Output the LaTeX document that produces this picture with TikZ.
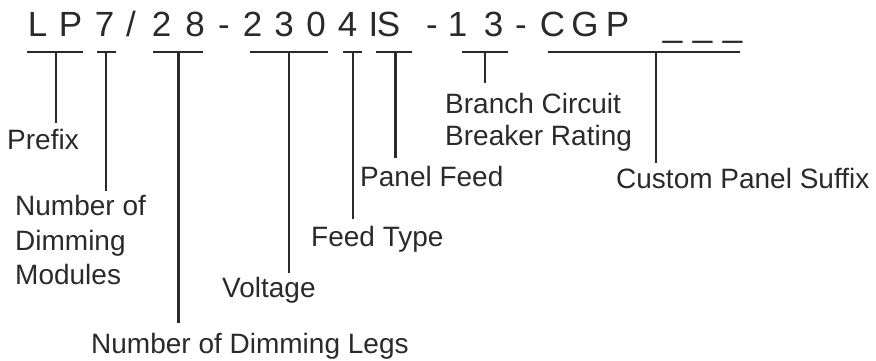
\documentclass[tikz,border=0pt]{standalone}
\usepackage{fontspec}
\setmainfont{Liberation Sans}
\definecolor{ink}{HTML}{2B2A2A}
\begin{document}
\begin{tikzpicture}[x=1pt,y=-1pt,
  codechar/.style={anchor=base,inner sep=0pt,text=ink,font=\fontsize{35}{40}\selectfont},
  lbl/.style={anchor=base west,inner sep=0pt,text=ink,font=\fontsize{28}{34}\selectfont},
  bar/.style={draw=ink,line width=2.6pt},
  lead/.style={draw=ink,line width=2.4pt}]
\useasboundingbox (0,0) rectangle (876,360);
% code string
\foreach \c/\x [count=\i] in {L/37.5,P/70.5,7/104.5,{/}/131,2/161.5,8/195,-/224,2/252.5,3/284,0/316,4/347.5,I/373.5,S/388.5,-/432,1/457.5,3/493.5,-/521,C/552.5,G/585,P/617.5}
  \node[codechar] (c\i) at (\x,36) {\c};
\node[codechar] (u1) at (672.5,36) {\_};
\node[codechar] (u2) at (702.5,36) {\_};
\node[codechar] (u3) at (732.5,36) {\_};
% bars
\coordinate (b1l) at (27,52);  \coordinate (b1r) at (83,52);  \coordinate (b1m) at (56,52);
\coordinate (b2l) at (97,52);  \coordinate (b2r) at (116,52); \coordinate (b2m) at (106,52);
\coordinate (b3l) at (153,52); \coordinate (b3r) at (203,52); \coordinate (b3m) at (178.5,52);
\coordinate (b4l) at (250,52); \coordinate (b4r) at (328,52); \coordinate (b4m) at (289,52);
\coordinate (b5l) at (343,52); \coordinate (b5r) at (362,52); \coordinate (b5m) at (353,52);
\coordinate (b6l) at (376,52); \coordinate (b6r) at (412,52); \coordinate (b6m) at (395.5,52);
\coordinate (b7l) at (462,52); \coordinate (b7r) at (508,52); \coordinate (b7m) at (485,52);
\coordinate (b8l) at (548,52); \coordinate (b8r) at (740,52); \coordinate (b8m) at (656,52);
\foreach \k in {1,...,8} \draw[bar] (b\k l) -- (b\k r);
% lead ends
\coordinate (e1) at (56,123);
\coordinate (e2) at (106,191);
\coordinate (e3) at (178.5,323);
\coordinate (e4) at (289,273);
\coordinate (e5) at (353,219);
\coordinate (e6) at (395.5,158);
\coordinate (e7) at (485,83);
\coordinate (e8) at (656,163);
\foreach \k in {1,...,8} \draw[lead] (b\k m) -- (e\k);
% labels
\node[lbl] (prefix) at (7,149) {Prefix};
\node[lbl] (mod1) at (15,215) {Number of};
\node[lbl] (mod2) at (15,250) {Dimming};
\node[lbl] (mod3) at (15,284) {Modules};
\node[lbl] (legs) at (91,353) {Number of Dimming Legs};
\node[lbl] (volt) at (222,297) {Voltage};
\node[lbl] (feedtype) at (311,246) {Feed Type};
\node[lbl] (panelfeed) at (360,186) {Panel Feed};
\node[lbl] (branch1) at (445,113) {Branch Circuit};
\node[lbl] (branch2) at (445,145) {Breaker Rating};
\node[lbl] (custom) at (616,188) {Custom Panel Suffix};
\end{tikzpicture}
\end{document}
